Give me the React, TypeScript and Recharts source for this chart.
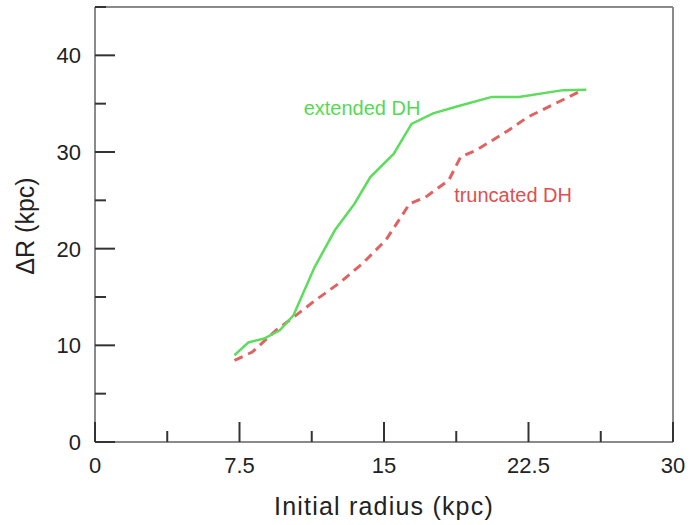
import { LineChart, Line, XAxis, YAxis, ReferenceDot } from 'recharts'

// ΔR vs initial radius
const extendedR = [7.24, 7.96, 8.78, 9.59, 10.3, 11.4, 12.45, 13.47, 14.29, 15.5, 16.43, 17.55, 18.78, 20.6, 22.0, 24.3, 25.5]
const extendedDR = [8.97, 10.3, 10.7, 11.55, 13.1, 18.1, 21.9, 24.65, 27.4, 29.8, 32.9, 34.0, 34.7, 35.7, 35.7, 36.4, 36.45]

const truncatedR = [7.24, 8.16, 9.39, 10.3, 11.43, 12.65, 13.88, 15.1, 16.33, 17.14, 18.37, 18.98, 19.8, 21.43, 22.45, 24.08, 25.1]
const truncatedDR = [8.45, 9.3, 11.55, 12.9, 14.65, 16.4, 18.45, 20.9, 24.65, 25.3, 27.1, 29.5, 30.2, 32.2, 33.6, 35.2, 36.2]

const xTicks = [0, 3.75, 7.5, 11.25, 15, 18.75, 22.5, 26.25, 30]
const xMajor = [0, 7.5, 15, 22.5, 30]
const yTicks = [0, 5, 10, 15, 20, 25, 30, 35, 40, 45]
const yMajor = [0, 10, 20, 30, 40]

const extended = extendedR.map((r, i) => ({ r, dr: extendedDR[i] }))
const truncated = truncatedR.map((r, i) => ({ r, dr: truncatedDR[i] }))

const FONT = '"Liberation Sans", Arial, sans-serif'
const TICK_COLOR = '#333'
const AXIS = { stroke: '#8a8a8a', strokeWidth: 2 }
const MAJOR_LEN = 20
const MINOR_LEN = 11

function BottomTick({ x, y, payload }: any) {
  const major = xMajor.includes(payload.value)
  return (
    <g>
      <line x1={x} x2={x} y1={y} y2={y - (major ? MAJOR_LEN : MINOR_LEN)} stroke={TICK_COLOR} strokeWidth={2} />
      {major && (
        <text x={x} y={y + 31} textAnchor="middle" fontSize={22} fontFamily={FONT} fill="#222">
          {payload.value}
        </text>
      )}
    </g>
  )
}

function TopTick({ x, y, payload }: any) {
  const major = xMajor.includes(payload.value)
  return <line x1={x} x2={x} y1={y} y2={y + (major ? MAJOR_LEN : MINOR_LEN)} stroke={TICK_COLOR} strokeWidth={2} />
}

function LeftTick({ x, y, payload }: any) {
  const major = yMajor.includes(payload.value)
  return (
    <g>
      <line x1={x} x2={x + (major ? MAJOR_LEN : MINOR_LEN)} y1={y} y2={y} stroke={TICK_COLOR} strokeWidth={2} />
      {major && (
        <text x={x - 14} y={y + 8} textAnchor="end" fontSize={22} fontFamily={FONT} fill="#222">
          {payload.value}
        </text>
      )}
    </g>
  )
}

function RightTick({ x, y, payload }: any) {
  const major = yMajor.includes(payload.value)
  return <line x1={x} x2={x - (major ? MAJOR_LEN : MINOR_LEN)} y1={y} y2={y} stroke={TICK_COLOR} strokeWidth={2} />
}

export default function App() {
  return (
    <div style={{ position: 'absolute', left: 0, top: 0, background: '#fff' }}>
      <LineChart width={697} height={525} margin={{ top: 0, right: 0, bottom: 0, left: 0 }}>
        <XAxis
          dataKey="r" type="number" domain={[0, 30]} ticks={xTicks} interval={0}
          height={83} tickSize={0} tickMargin={0} tickLine={false} axisLine={AXIS}
          tick={BottomTick}
          label={{ value: 'Initial radius (kpc)', position: 'insideBottom', offset: 10, fontSize: 25, fontFamily: FONT, fill: '#222', letterSpacing: 1.2 }}
        />
        <XAxis
          xAxisId="top" orientation="top" type="number" domain={[0, 30]} ticks={xTicks} interval={0}
          height={7} tickSize={0} tickMargin={0} tickLine={false} axisLine={AXIS} tick={TopTick}
        />
        <YAxis
          type="number" domain={[0, 45]} ticks={yTicks} interval={0}
          width={95} tickSize={0} tickMargin={0} tickLine={false} axisLine={AXIS} tick={LeftTick}
          label={{
            content: () => (
              <text x={25} y={226} transform="rotate(-90 25 226)" textAnchor="middle" dominantBaseline="central"
                fontSize={25} fontFamily={FONT} fill="#222">
                ΔR (kpc)
              </text>
            ),
          }}
        />
        <YAxis
          yAxisId="right" orientation="right" type="number" domain={[0, 45]} ticks={yTicks} interval={0}
          width={24} tickSize={0} tickMargin={0} tickLine={false} axisLine={AXIS} tick={RightTick}
        />
        <Line data={truncated} dataKey="dr" stroke="#e06262" strokeWidth={3} strokeDasharray="9 6"
          dot={false} activeDot={false} isAnimationActive={false} />
        <Line data={extended} dataKey="dr" stroke="#5ddc5d" strokeWidth={2.5}
          dot={false} activeDot={false} isAnimationActive={false} />
        <ReferenceDot x={13.86} y={34.6} r={0} fill="none" stroke="none"
          label={{ value: 'extended DH', position: 'center', fill: '#55d955', fontSize: 20, fontFamily: FONT }} />
        <ReferenceDot x={21.7} y={25.6} r={0} fill="none" stroke="none"
          label={{ value: 'truncated DH', position: 'center', fill: '#dd4f4f', fontSize: 20, fontFamily: FONT }} />
      </LineChart>
    </div>
  )
}
